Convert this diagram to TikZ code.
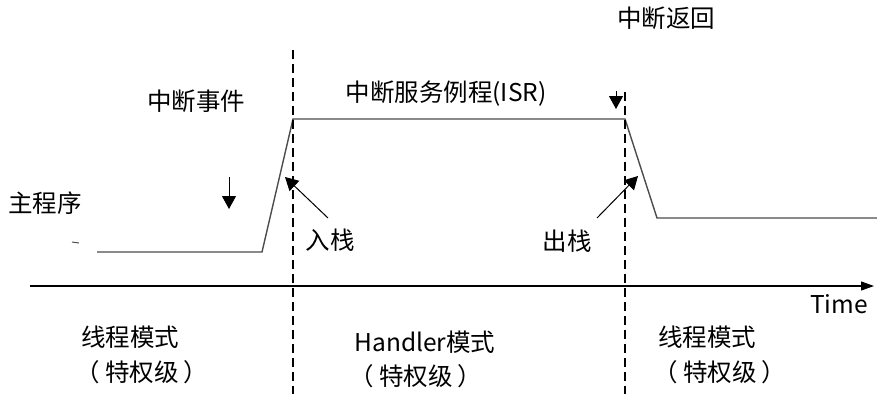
\documentclass[tikz,border=0pt]{standalone}
\usepackage{fontspec}
\setmainfont{Noto Sans CJK SC}
\usetikzlibrary{arrows.meta}
\newcommand{\tqj}{（\hspace{5pt}特权级\hspace{5pt}）}
\begin{document}
\begin{tikzpicture}[x=1pt,y=-1pt,
  lbl/.style={inner sep=0pt, font=\fontsize{24.5}{28}\selectfont},
  sig/.style={line width=1.4pt, draw=black!70},
  vdash/.style={line width=1.3pt, dash pattern=on 9pt off 5pt},
  axis/.style={line width=1.2pt, -{Triangle[length=13pt,width=9pt]}},
  ptr/.style={line width=1pt, -{Triangle[length=13pt,width=14pt]}}]
\useasboundingbox (0,0) rectangle (877,394);
% signal
\coordinate (s0) at (97,252);
\coordinate (s1) at (262,252);
\coordinate (s2) at (293,119);
\coordinate (s3) at (625,119);
\coordinate (s4) at (657,218);
\coordinate (s5) at (877,218);
\draw[sig] (s0) -- (s1) -- (s2) -- (s3) -- (s4) -- (s5);
\coordinate (tk1) at (72,242);
\coordinate (tk2) at (79,243);
\draw[line width=1pt, black!70] (tk1) -- (tk2);
% dashed lines
\coordinate (d1t) at (293,50);
\coordinate (d1b) at (293,394);
\coordinate (d2t) at (625,92);
\coordinate (d2b) at (625,394);
\draw[vdash] (d1t) -- (d1b);
\draw[vdash] (d2t) -- (d2b);
% time axis
\coordinate (a0) at (30,286);
\coordinate (a1) at (874,286);
\draw[axis] (a0) -- (a1);
% texts
\node[lbl] (evt) at (196,101) {中断事件};
\node[lbl] (isr) at (446,94) {中断服务例程(ISR)};
\node[lbl] (ret) at (666,18) {中断返回};
\node[lbl] (main) at (45,203) {主程序};
\node[lbl] (push) at (330,240) {入栈};
\node[lbl] (pop) at (567,241) {出栈};
\node[lbl] (time) at (839,304) {Time};
\node[lbl] (m1) at (130,337) {线程模式};
\node[lbl] (p1) at (142,372) {\tqj};
\node[lbl] (m2) at (425,342) {Handler模式};
\node[lbl] (p2) at (416,376) {\tqj};
\node[lbl] (m3) at (707,337) {线程模式};
\node[lbl] (p3) at (720,372) {\tqj};
% arrows
\coordinate (e1) at (229,177);
\coordinate (e2) at (229,209);
\draw[ptr] (e1) -- (e2);
\coordinate (r1) at (616,91);
\coordinate (r2) at (616,109);
\draw[ptr] (r1) -- (r2);
\coordinate (pu1) at (328,218);
\coordinate (pu2) at (285,177);
\draw[ptr] (pu1) -- (pu2);
\coordinate (po1) at (597,218);
\coordinate (po2) at (638,176);
\draw[ptr] (po1) -- (po2);
\end{tikzpicture}
\end{document}
